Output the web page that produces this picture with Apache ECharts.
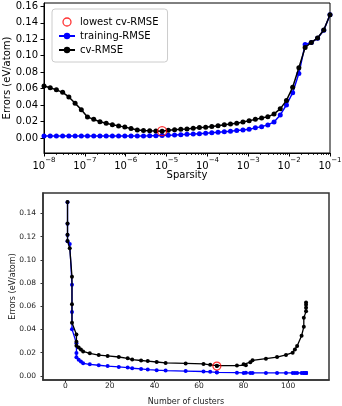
<!DOCTYPE html>
<html>
<head>
<meta charset="utf-8">
<script src="https://cdn.jsdelivr.net/npm/echarts@6/dist/echarts.min.js"></script>
<style>
html,body{margin:0;padding:0;background:#fff;}
#chart{width:342px;height:406px;}
</style>
</head>
<body>
<div id="chart"></div>
<script>
// ---- data ----
const sparsity = [1.0e-8, 1.42e-8, 2.01e-8, 2.86e-8, 4.06e-8, 5.77e-8, 8.19e-8, 1.16e-7, 1.65e-7, 2.34e-7,
  3.33e-7, 4.72e-7, 6.70e-7, 9.51e-7, 1.35e-6, 1.92e-6, 2.72e-6, 3.86e-6, 5.48e-6, 7.78e-6,
  1.10e-5, 1.57e-5, 2.23e-5, 3.16e-5, 4.49e-5, 6.37e-5, 9.05e-5, 1.28e-4, 1.82e-4, 2.59e-4,
  3.67e-4, 5.21e-4, 7.40e-4, 1.05e-3, 1.49e-3, 2.12e-3, 3.01e-3, 4.27e-3, 6.06e-3, 8.60e-3,
  1.22e-2, 1.73e-2, 2.46e-2, 3.49e-2, 4.96e-2, 7.04e-2, 1.0e-1];
const nClusters = [108, 108, 108, 108, 107, 107, 106, 104, 103, 102,
  99, 95, 90, 84, 83, 80, 81, 77, 68, 68,
  65, 62, 54, 45, 41, 37, 34, 30, 28, 24,
  19, 15, 11, 8, 7, 6, 5, 5, 5, 3,
  3, 3, 2, 1, 1, 1, 1];
const cvRmse = [0.0632, 0.0612, 0.0586, 0.0556, 0.0500, 0.0423, 0.0346, 0.0258, 0.0228, 0.0200,
  0.0181, 0.0162, 0.0149, 0.0134, 0.0118, 0.0100, 0.0093, 0.0089, 0.0088, 0.0085,
  0.0096, 0.0103, 0.0108, 0.0112, 0.0120, 0.0128, 0.0133, 0.0141, 0.0152, 0.0163,
  0.0172, 0.0180, 0.0195, 0.0211, 0.0228, 0.0244, 0.0259, 0.0294, 0.0356, 0.0458,
  0.0618, 0.0855, 0.1100, 0.1162, 0.1215, 0.1312, 0.1498];
const trainingRmse = [0.0026, 0.0026, 0.0026, 0.0026, 0.0026, 0.0026, 0.0026, 0.0026, 0.0026, 0.0026,
  0.0026, 0.0026, 0.0026, 0.0026, 0.0026, 0.0026, 0.0027, 0.0028, 0.0030, 0.0032,
  0.0035, 0.0038, 0.0042, 0.0046, 0.0050, 0.0055, 0.0060, 0.0066, 0.0072, 0.0078,
  0.0085, 0.0092, 0.0100, 0.0109, 0.0125, 0.0140, 0.0161, 0.0197, 0.0282, 0.0403,
  0.0551, 0.0786, 0.1136, 0.1160, 0.1213, 0.1310, 0.1496];
const lowestIndex = 19;

// ---- tick labels ----
const sparsityExponentLabels = ['\u22128', '\u22127', '\u22126', '\u22125', '\u22124', '\u22123', '\u22122', '\u22121'];
const sparsityMinorTicks = [2e-8,3e-8,4e-8,5e-8,6e-8,7e-8,8e-8,9e-8,
  2e-7,3e-7,4e-7,5e-7,6e-7,7e-7,8e-7,9e-7,
  2e-6,3e-6,4e-6,5e-6,6e-6,7e-6,8e-6,9e-6,
  2e-5,3e-5,4e-5,5e-5,6e-5,7e-5,8e-5,9e-5,
  2e-4,3e-4,4e-4,5e-4,6e-4,7e-4,8e-4,9e-4,
  2e-3,3e-3,4e-3,5e-3,6e-3,7e-3,8e-3,9e-3,
  2e-2,3e-2,4e-2,5e-2,6e-2,7e-2,8e-2,9e-2];
const errorTicksTop = [0, 0.02, 0.04, 0.06, 0.08, 0.10, 0.12, 0.14, 0.16];
const errorTicksBottom = [0, 0.02, 0.04, 0.06, 0.08, 0.10, 0.12, 0.14];
const clusterTicks = [0, 20, 40, 60, 80, 100];

const FONT = 'DejaVu Sans';
const topTrain = sparsity.map((s, i) => [s, trainingRmse[i]]);
const topCv = sparsity.map((s, i) => [s, cvRmse[i]]);
const botTrain = nClusters.map((n, i) => [n, trainingRmse[i]]);
const botCv = nClusters.map((n, i) => [n, cvRmse[i]]);

const chart = echarts.init(document.getElementById('chart'), null, {renderer: 'canvas'});
const option = {
  animation: false,
  backgroundColor: '#fff',
  grid: [
    {left: 44, top: 3, width: 286, height: 150, show: true, borderColor: '#000', borderWidth: 1,
      backgroundColor: 'transparent', containLabel: false, outerBoundsMode: 'none'},
    {left: 43, top: 193, width: 286, height: 187, show: true, borderColor: '#333', borderWidth: 1.5,
      backgroundColor: 'transparent', containLabel: false, outerBoundsMode: 'none'}
  ],
  legend: {
    orient: 'vertical', left: 52, top: 9,
    itemWidth: 16, itemHeight: 8, itemGap: 4,
    padding: [8, 9, 7, 6],
    borderColor: '#ccc', borderWidth: 1, borderRadius: 3,
    backgroundColor: 'rgba(255,255,255,0.8)',
    textStyle: {fontFamily: FONT, fontSize: 10, color: '#000'},
    data: [
      {name: 'lowest cv-RMSE', icon: 'circle', itemStyle: {color: 'rgba(0,0,0,0)', borderColor: '#ff0000', borderWidth: 1.3}},
      {name: 'training-RMSE'},
      {name: 'cv-RMSE'}
    ]
  },
  xAxis: [
    {
      type: 'log', logBase: 10, gridIndex: 0, min: 1e-8, max: 1e-1, splitNumber: 7,
      position: 'bottom',
      axisLine: {onZero: false, lineStyle: {color: '#000', width: 1}},
      axisTick: {length: 3.5, lineStyle: {color: '#000'}},
      splitLine: {show: false},
      axisLabel: {
        margin: 4, showMinLabel: true, showMaxLabel: true,
        formatter: function (v) {
          const e = Math.round(Math.log10(v));
          return '{b|10}{s|' + sparsityExponentLabels[e + 8] + '}';
        },
        rich: {
          b: {fontFamily: FONT, fontSize: 10, color: '#000', lineHeight: 14, verticalAlign: 'bottom'},
          s: {fontFamily: FONT, fontSize: 7, color: '#000', lineHeight: 6, verticalAlign: 'top'}
        }
      },
      name: 'Sparsity', nameLocation: 'middle', nameGap: 17, nameMoveOverlap: false,
      nameTextStyle: {fontFamily: FONT, fontSize: 10, color: '#000'}
    },
    {
      type: 'log', logBase: 10, gridIndex: 0, min: 1e-8, max: 1e-1,
      position: 'bottom',
      axisLine: {show: false, onZero: false},
      axisLabel: {show: false},
      splitLine: {show: false},
      axisTick: {length: 2, customValues: sparsityMinorTicks, lineStyle: {color: '#000', width: 0.8}}
    },
    {
      type: 'value', gridIndex: 1, min: -10, max: 118.3,
      position: 'bottom',
      axisLine: {onZero: false, lineStyle: {color: '#333', width: 1.5}},
      axisTick: {length: 2.5, customValues: clusterTicks, lineStyle: {color: '#333'}},
      splitLine: {show: false},
      axisLabel: {margin: 2, customValues: clusterTicks, fontFamily: FONT, fontSize: 7.5, color: '#222'},
      name: 'Number of clusters', nameLocation: 'middle', nameGap: 18, nameMoveOverlap: false,
      nameTextStyle: {fontFamily: FONT, fontSize: 8, color: '#222'}
    }
  ],
  yAxis: [
    {
      type: 'value', gridIndex: 0, min: -0.018, max: 0.164,
      axisLine: {onZero: false, lineStyle: {color: '#000', width: 1}},
      axisTick: {length: 3.5, customValues: errorTicksTop, lineStyle: {color: '#000'}},
      splitLine: {show: false},
      axisLabel: {margin: 6, customValues: errorTicksTop, fontFamily: FONT, fontSize: 10, color: '#000',
        formatter: v => v.toFixed(2)},
      name: 'Errors (eV/atom)', nameLocation: 'middle', nameGap: 32, nameRotate: 90, nameMoveOverlap: false,
      nameTextStyle: {fontFamily: FONT, fontSize: 10, color: '#000'}
    },
    {
      type: 'value', gridIndex: 1, min: -0.0035, max: 0.1575,
      axisLine: {onZero: false, lineStyle: {color: '#333', width: 1.5}},
      axisTick: {length: 2.5, customValues: errorTicksBottom, lineStyle: {color: '#333'}},
      splitLine: {show: false},
      axisLabel: {margin: 7, customValues: errorTicksBottom, fontFamily: FONT, fontSize: 7.5, color: '#222',
        formatter: v => v.toFixed(2)},
      name: 'Errors (eV/atom)', nameLocation: 'middle', nameGap: 26, nameRotate: 90, nameMoveOverlap: false,
      nameTextStyle: {fontFamily: FONT, fontSize: 8, color: '#222'}
    }
  ],
  series: [
    {name: 'training-RMSE', type: 'line', xAxisIndex: 0, yAxisIndex: 0, data: topTrain,
      symbol: 'circle', symbolSize: 5, showSymbol: true, color: '#0000ff',
      lineStyle: {width: 1.5, color: '#0000ff'}, itemStyle: {color: '#0000ff'}, z: 2},
    {name: 'cv-RMSE', type: 'line', xAxisIndex: 0, yAxisIndex: 0, data: topCv,
      symbol: 'circle', symbolSize: 5, showSymbol: true, color: '#000',
      lineStyle: {width: 1.5, color: '#000'}, itemStyle: {color: '#000'}, z: 3},
    {name: 'lowest cv-RMSE', type: 'scatter', xAxisIndex: 0, yAxisIndex: 0,
      data: [[sparsity[lowestIndex], cvRmse[lowestIndex]]],
      symbol: 'circle', symbolSize: 9,
      itemStyle: {color: 'rgba(0,0,0,0)', borderColor: '#ff0000', borderWidth: 1.3}, z: 4},
    {name: 'training-RMSE', type: 'line', xAxisIndex: 2, yAxisIndex: 1, data: botTrain,
      symbol: 'circle', symbolSize: 4, showSymbol: true, color: '#0000ff',
      lineStyle: {width: 1.3, color: '#0000ff'}, itemStyle: {color: '#0000ff'}, z: 2},
    {name: 'cv-RMSE', type: 'line', xAxisIndex: 2, yAxisIndex: 1, data: botCv,
      symbol: 'circle', symbolSize: 4, showSymbol: true, color: '#000',
      lineStyle: {width: 1.3, color: '#000'}, itemStyle: {color: '#000'}, z: 3},
    {name: 'lowest cv-RMSE', type: 'scatter', xAxisIndex: 2, yAxisIndex: 1,
      data: [[nClusters[lowestIndex], cvRmse[lowestIndex]]],
      symbol: 'circle', symbolSize: 8,
      itemStyle: {color: 'rgba(0,0,0,0)', borderColor: '#ff0000', borderWidth: 1.2}, z: 4}
  ]
};
chart.setOption(option);
</script>
</body>
</html>
